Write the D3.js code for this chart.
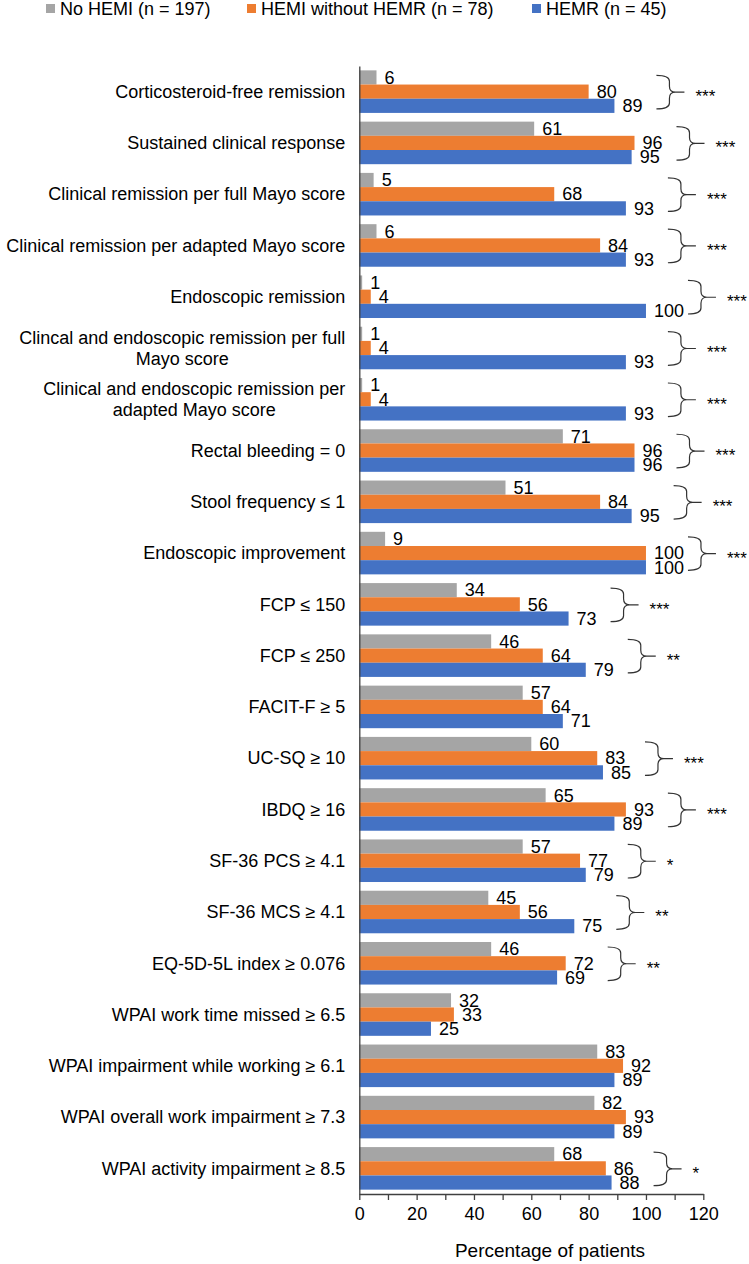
<html>
<head>
<meta charset="utf-8">
<script src="https://cdn.jsdelivr.net/npm/d3@7"></script>
<style>
  body { margin: 0; background: #fff; }
  text { font-family: "Liberation Sans", Arial, sans-serif; fill: #000; }
  .axis path, .axis line { stroke: #404040; stroke-width: 1.3; }
</style>
</head>
<body>
<svg width="749" height="1264"></svg>
<script>
// categories (top to bottom), "\n" marks a wrapped label
var categories = [
  "Corticosteroid-free remission",
  "Sustained clinical response",
  "Clinical remission per full Mayo score",
  "Clinical remission per adapted Mayo score",
  "Endoscopic remission",
  "Clincal and endoscopic remission per full\nMayo score",
  "Clinical and endoscopic remission per\nadapted Mayo score",
  "Rectal bleeding = 0",
  "Stool frequency \u2264 1",
  "Endoscopic improvement",
  "FCP \u2264 150",
  "FCP \u2264 250",
  "FACIT-F \u2265 5",
  "UC-SQ \u2265 10",
  "IBDQ \u2265 16",
  "SF-36 PCS \u2265 4.1",
  "SF-36 MCS \u2265 4.1",
  "EQ-5D-5L index \u2265 0.076",
  "WPAI work time missed \u2265 6.5",
  "WPAI impairment while working \u2265 6.1",
  "WPAI overall work impairment \u2265 7.3",
  "WPAI activity impairment \u2265 8.5"
];

var noHemi     = [6, 61, 5, 6, 1, 1, 1, 71, 51, 9, 34, 46, 57, 60, 65, 57, 45, 46, 32, 83, 82, 68];
var hemiNoHemr = [80, 96, 68, 84, 4, 4, 4, 96, 84, 100, 56, 64, 64, 83, 93, 77, 56, 72, 33, 92, 93, 86];
var hemr       = [89, 95, 93, 93, 100, 93, 93, 96, 95, 100, 73, 79, 71, 85, 89, 79, 75, 69, 25, 89, 89, 88];

// significance marks per category ("" = none)
var signif = ["***", "***", "***", "***", "***", "***", "***", "***", "***", "***",
              "***", "**", "", "***", "***", "*", "**", "**", "", "", "", "*"];

var seriesNames = ["No HEMI (n = 197)", "HEMI without HEMR (n = 78)", "HEMR (n = 45)"];
var seriesColors = ["#A5A5A5", "#ED7D31", "#4472C4"];
var xTicks = [0, 10, 20, 30, 40, 50, 60, 70, 80, 90, 100, 110, 120];

function draw() {
  var series = [noHemi, hemiNoHemr, hemr];
  var svg = d3.select("svg");
  var mLeft = 359.3, mTop = 66, plotW = 344, plotH = 1128;

  var x = d3.scaleLinear().domain([0, 120]).range([0, plotW]);
  var y = d3.scaleBand().domain(d3.range(categories.length)).range([0, plotH])
    .paddingInner(0.17).paddingOuter(0.085);
  var ys = d3.scaleBand().domain([0, 1, 2]).range([0, y.bandwidth()]);

  var g = svg.append("g").attr("transform", "translate(" + mLeft + "," + mTop + ")");

  // bars
  var rows = g.selectAll(".row")
    .data(categories)
    .enter().append("g")
    .attr("class", "row")
    .attr("transform", function(d, i) { return "translate(0," + y(i) + ")"; });

  rows.each(function(d, i) {
    var row = d3.select(this);
    series.forEach(function(s, k) {
      row.append("rect")
        .attr("x", 0)
        .attr("y", ys(k))
        .attr("width", x(s[i]))
        .attr("height", ys.bandwidth())
        .attr("fill", seriesColors[k]);
    });
    series.forEach(function(s, k) {
      row.append("text")
        .attr("x", x(s[i]) + 8)
        .attr("y", ys(k) + ys.bandwidth() / 2)
        .attr("dy", "0.35em")
        .style("font-size", "18px")
        .text(s[i]);
    });

    // brace + stars
    if (signif[i]) {
      var mx = d3.max(series, function(s) { return s[i]; });
      var L = x(mx) + 42, S = L + 13, T = L + 28, r = 6;
      var y0 = 5, y1 = y.bandwidth() - 4, m = (y0 + y1) / 2;
      var p = "M" + L + "," + y0 + " Q" + S + "," + y0 + " " + S + "," + (y0 + r) +
              " V" + (m - r) + " Q" + S + "," + m + " " + (S + r) + "," + m + " H" + T +
              " M" + L + "," + y1 + " Q" + S + "," + y1 + " " + S + "," + (y1 - r) +
              " V" + (m + r) + " Q" + S + "," + m + " " + (S + r) + "," + m;
      row.append("path").attr("d", p).attr("fill", "none")
        .attr("stroke", "#333").attr("stroke-width", 1.2);
      row.append("text")
        .attr("x", L + 39)
        .attr("y", m + 10)
        .style("font-size", "17px")
        .text(signif[i]);
    }
  });

  // y axis (line only) + category labels
  g.append("g").attr("class", "axis")
    .call(d3.axisLeft(y).tickSize(0).tickSizeOuter(0).tickFormat(""));

  categories.forEach(function(c, i) {
    var lines = c.split("\n");
    var cy = y(i) + y.bandwidth() / 2;
    var t = g.append("text").style("font-size", "18px");
    if (lines.length === 1) {
      t.attr("x", -14).attr("y", cy).attr("dy", "0.35em")
        .attr("text-anchor", "end").text(c);
    } else {
      var lh = 20.5;
      lines.forEach(function(l, j) {
        t.append("tspan").attr("y", cy + (j - (lines.length - 1) / 2) * lh)
          .attr("dy", "0.35em").text(l);
      });
      var w = 0;
      t.selectAll("tspan").each(function() { w = Math.max(w, this.getComputedTextLength()); });
      t.attr("text-anchor", "middle");
      t.selectAll("tspan").attr("x", -14 - w / 2);
    }
  });

  // x axis
  var xa = g.append("g").attr("class", "axis")
    .attr("transform", "translate(0," + plotH + ")")
    .call(d3.axisBottom(x).tickValues(xTicks).tickSize(6).tickSizeOuter(0).tickPadding(7)
      .tickFormat(function(d) { return d % 20 === 0 ? d : ""; }));
  xa.selectAll("text").style("font-size", "18px").attr("fill", "#000");

  svg.append("text")
    .attr("x", 550).attr("y", 1257)
    .attr("text-anchor", "middle")
    .style("font-size", "19px")
    .text("Percentage of patients");

  // legend
  var legendX = [46, 247, 532];
  var lg = svg.selectAll(".lg").data(seriesNames).enter().append("g")
    .attr("transform", function(d, i) { return "translate(" + legendX[i] + ",0)"; });
  lg.append("rect").attr("x", 0).attr("y", 4).attr("width", 9).attr("height", 9)
    .attr("fill", function(d, i) { return seriesColors[i]; });
  lg.append("text").attr("x", 14).attr("y", 15).style("font-size", "18px")
    .text(function(d) { return d; });
}
draw();
</script>
</body>
</html>
